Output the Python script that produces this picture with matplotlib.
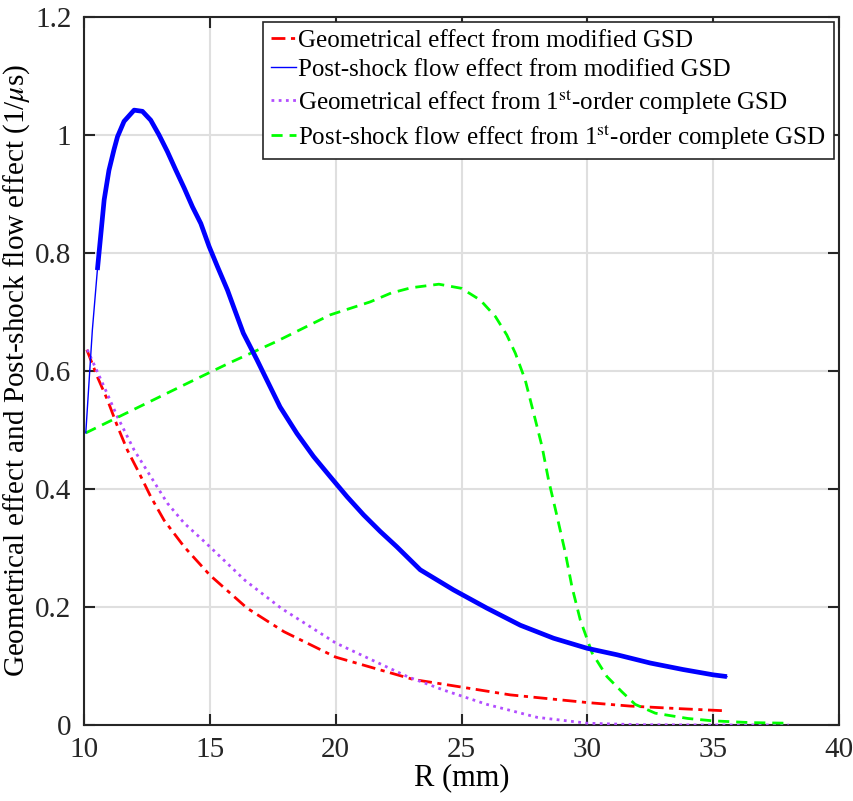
import numpy as np
import matplotlib.pyplot as plt

plt.rcParams['font.family'] = ['Liberation Serif', 'DejaVu Serif']
plt.rcParams['mathtext.fontset'] = 'stix'

# Geometrical effect from modified GSD (red)
red_x = [10.11, 10.53, 10.93, 11.33, 11.72, 12.19, 12.65, 13.18, 13.98, 15.0, 16.48, 17.95,
         20.0, 23.1, 24.3, 26.94, 30.0, 31.71, 33.5, 35.5]
red_y = [0.636, 0.59, 0.551, 0.506, 0.466, 0.427, 0.387, 0.347, 0.302, 0.254, 0.198, 0.158,
         0.115, 0.077, 0.069, 0.051, 0.038, 0.032, 0.028, 0.024]

# Post-shock flow effect from modified GSD (blue)
blue_x = [10.07, 10.33, 10.53, 10.8, 10.99, 11.19, 11.33, 11.59, 11.99, 12.32, 12.65, 12.98,
          13.31, 13.64, 13.98, 14.31, 14.64, 14.97, 15.3, 15.7, 15.94, 16.33, 16.87, 17.26,
          17.79, 18.46, 19.12, 19.78, 20.45, 21.11, 21.77, 22.43, 23.36, 24.68, 26.01, 27.34,
          28.66, 29.99, 31.18, 32.5, 33.8, 35.0, 35.55]
blue_y = [0.495, 0.669, 0.771, 0.89, 0.94, 0.975, 0.997, 1.023, 1.042, 1.04, 1.025, 1.0,
          0.972, 0.941, 0.91, 0.878, 0.85, 0.811, 0.777, 0.737, 0.709, 0.664, 0.619, 0.585,
          0.539, 0.494, 0.455, 0.421, 0.387, 0.356, 0.328, 0.302, 0.263, 0.229, 0.198, 0.169,
          0.147, 0.130, 0.119, 0.105, 0.094, 0.085, 0.082]

# Geometrical effect from 1st-order complete GSD (purple)
purple_x = [10.13, 10.8, 11.33, 11.99, 12.65, 13.31, 13.98, 14.7, 15.0, 16.4, 17.83, 20.0,
            22.85, 24.3, 26.0, 28.0, 30.0, 32.0, 35.0, 38.0]
purple_y = [0.636, 0.573, 0.522, 0.466, 0.421, 0.376, 0.342, 0.314, 0.302, 0.245, 0.198, 0.139,
            0.082, 0.059, 0.035, 0.013, 0.003, 0.0005, 0.0, 0.0]

# Post-shock flow effect from 1st-order complete GSD (green)
green_x = [10.07, 14.44, 15.8, 17.6, 19.78, 21.37, 22.2, 23.0, 24.1, 25.0, 25.75, 26.35, 26.8,
           27.14, 27.53, 27.87, 28.2, 28.46, 28.8, 29.13, 29.39, 29.72, 30.19, 30.78, 31.38,
           31.9, 32.7, 34.0, 35.0, 36.5, 38.0]
green_y = [0.495, 0.586, 0.614, 0.649, 0.695, 0.717, 0.732, 0.741, 0.747, 0.74, 0.72, 0.692, 0.661,
           0.63, 0.585, 0.528, 0.472, 0.415, 0.353, 0.291, 0.234, 0.178, 0.122, 0.082, 0.056,
           0.035, 0.02, 0.011, 0.007, 0.004, 0.003]

labels = ['Geometrical effect from modified GSD',
          'Post-shock flow effect from modified GSD',
          r'Geometrical effect from 1$^{\mathrm{st}}$-order complete GSD',
          r'Post-shock flow effect from 1$^{\mathrm{st}}$-order complete GSD']

fig = plt.figure(figsize=(8.54, 8.01), dpi=100)
ax = fig.add_axes([0.0984, 0.0949, 0.884, 0.884])

ax.plot(red_x, red_y, color='#ff0000', lw=2, dashes=(5, 2, 1.5, 2), label=labels[0], zorder=3)
ax.plot(blue_x, blue_y, color='#0000ff', lw=1, label=labels[1], zorder=4)
# noisy band of the blue curve drawn as a thick stroke
bx = np.array(blue_x)
by = np.array(blue_y)
ax.plot(bx[bx >= 10.5], by[bx >= 10.5], color='#0000ff', lw=3.4, zorder=4,
        solid_joinstyle='round', solid_capstyle='butt')
ax.plot(purple_x, purple_y, color='#b24dff', lw=2, dashes=(1, 1.6), label=labels[2], zorder=3)
ax.plot(green_x, green_y, color='#00ff00', lw=2, dashes=(4, 2.5), label=labels[3], zorder=3)

ax.set_xlim(10, 40)
ax.set_ylim(0, 1.2)
ax.set_xticks([10, 15, 20, 25, 30, 35, 40])
ax.set_yticks([0, 0.2, 0.4, 0.6, 0.8, 1.0, 1.2])
ax.set_yticklabels(['0', '0.2', '0.4', '0.6', '0.8', '1', '1.2'])
ax.grid(True, color='#dfdfdf', lw=1.5)
ax.set_axisbelow(True)
ax.tick_params(direction='in', length=8, width=1.5, top=True, right=True,
               labelsize=21, colors='#262626')
ax.tick_params(axis='x', pad=9)
ax.tick_params(axis='y', pad=9)
for s in ax.spines.values():
    s.set_linewidth(1.5)
    s.set_color('#262626')

ax.set_xlabel('R (mm)', fontsize=22, labelpad=0)
ax.set_ylabel(r'Geometrical effect and Post-shock flow effect (1/$\mu$s)', fontsize=21, labelpad=2)

leg = ax.legend(loc='upper right', fontsize=18, handlelength=1.0, handletextpad=0.1,
                borderaxespad=0.2, borderpad=0.3, labelspacing=0.25, fancybox=False,
                framealpha=1, edgecolor='#262626')
leg.get_frame().set_linewidth(1.2)

fig.savefig('out.png', dpi=100)
